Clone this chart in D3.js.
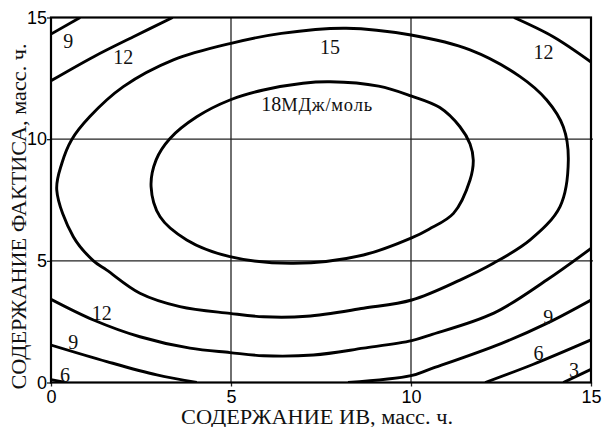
<!DOCTYPE html>
<html><head><meta charset="utf-8">
<script src="https://cdn.jsdelivr.net/npm/d3@7"></script>
<style>
body{margin:0;background:#fff;}
svg{display:block;}
</style></head>
<body>
<svg id="chart" width="603" height="427"></svg>
<script>
// ---- data ----
const xTicks = [0, 5, 10, 15];
const yTicks = [0, 5, 10, 15];
const xTitle = "СОДЕРЖАНИЕ  ИВ, масс. ч.";
const yTitle = "СОДЕРЖАНИЕ ФАКТИСА, масс. ч.";

// contour level 18 (closed)
const c18 = [[2.78,8.05],[2.92,9.15],[3.3,10.02],[4.05,10.92],[4.97,11.61],[5.9,12.02],[7.0,12.3],[7.75,12.36],[9.1,12.18],[10.0,11.78],[10.8,11.3],[11.36,10.51],[11.64,9.8],[11.73,9.14],[11.64,8.32],[11.18,6.95],[10.5,6.3],[10.0,5.93],[8.68,5.24],[6.73,4.9],[4.97,5.17],[3.77,5.86],[3.03,6.81]];
// contour level 15 (closed)
const c15 = [[0.16,7.91],[0.3,9.0],[0.57,9.97],[1.08,10.93],[2.01,12.16],[3.4,13.26],[5.0,13.94],[6.4,14.35],[8.2,14.56],[10.0,14.28],[11.64,13.67],[13.03,12.57],[13.77,11.61],[14.23,10.51],[14.37,9.14],[14.14,7.23],[13.31,5.86],[12.29,4.9],[11.36,4.21],[10.02,3.39],[8.68,3.05],[7.1,2.72],[5.9,2.7],[4.97,2.84],[3.58,3.12],[2.47,3.67],[1.55,4.62],[1.18,5.0],[0.62,5.99]];
// contour level 12 (open pieces)
const c12a = [[0,12.4],[1.2,13.4],[2.29,14.21],[3.38,15.0]];
const c12b = [[12.86,15.0],[13.95,14.21],[15.0,13.17]];
const c12c = [[0,3.42],[1.18,2.57],[2.47,1.88],[3.86,1.41],[4.97,1.23],[5.9,1.1],[7.29,1.13],[8.68,1.41],[10.02,1.72],[10.53,1.95],[12.3,2.85],[13.77,4.21],[15.0,5.51]];
// contour level 9
const c9a = [[0,14.32],[0.81,15.0]];
const c9b = [[0,1.54],[1.55,0.86],[2.94,0.31],[4.05,0]];
const c9c = [[8.25,0],[10.0,0.28],[10.53,0.55],[12.5,1.6],[13.8,2.45],[15.0,3.39]];
// contour level 6
const c6a = [[0,0.12],[0.4,0]];
const c6b = [[12.06,0],[13.4,0.75],[15.0,1.75]];
// contour level 3
const c3a = [[14.23,0],[15.0,0.54]];

const closedContours = [c18, c15];
const openContours = [c12a, c12b, c12c, c9a, c9b, c9c, c6a, c6b, c3a];

// level labels (data coordinates)
const labelText = ["9","12","15","12","12","9","6","9","6","3"];
const labelX    = [0.48, 2.01, 7.75, 13.68, 1.41, 0.62, 0.39, 13.81, 13.54, 14.53];
const labelY    = [14.04,13.39,13.78,13.6, 2.87, 1.68, 0.31, 2.71, 1.2, 0.51];
const mainLabel = {num: "18", unit: "МДж/моль", x: 7.39, y: 11.4};

// ---- layout ----
const W = 603, H = 427;
const m = {left: 51, right: 12, top: 17.5, bottom: 44.5};
const svg = d3.select("#chart");
const x = d3.scaleLinear().domain([0, 15]).range([m.left, W - m.right]);
const y = d3.scaleLinear().domain([0, 15]).range([H - m.bottom, m.top]);

svg.append("defs").append("clipPath").attr("id", "clip")
  .append("rect").attr("x", x(0)).attr("y", y(15))
  .attr("width", x(15) - x(0)).attr("height", y(0) - y(15));

// grid
const g = svg.append("g");
g.selectAll(".gx").data(xTicks.slice(1, -1)).join("line")
  .attr("x1", d => x(d)).attr("x2", d => x(d))
  .attr("y1", y(15)).attr("y2", y(0))
  .attr("stroke", "#222").attr("stroke-width", 1.3);
g.selectAll(".gy").data(yTicks.slice(1, -1)).join("line")
  .attr("y1", d => y(d)).attr("y2", d => y(d))
  .attr("x1", x(0)).attr("x2", x(15) + 2)
  .attr("stroke", "#222").attr("stroke-width", 1.3);

// axes
const tickFont = "'Liberation Sans', Arial, sans-serif";
const ax = svg.append("g").attr("transform", `translate(0,${y(0)})`)
  .call(d3.axisBottom(x).tickValues(xTicks).tickFormat(d3.format("d")).tickSize(4).tickPadding(4));
const ay = svg.append("g").attr("transform", `translate(${x(0)},0)`)
  .call(d3.axisLeft(y).tickValues(yTicks).tickFormat(d3.format("d")).tickSize(4).tickPadding(0));
[ax, ay].forEach(a => {
  a.select(".domain").remove();
  a.selectAll("line").attr("stroke", "#222").attr("stroke-width", 1.3);
  a.selectAll("text").attr("font-family", tickFont).attr("font-size", 18).attr("fill", "#000");
});

// frame
svg.append("rect").attr("x", x(0)).attr("y", y(15))
  .attr("width", x(15) - x(0)).attr("height", y(0) - y(15))
  .attr("fill", "none").attr("stroke", "#000").attr("stroke-width", 2.2);

// contours
const cg = svg.append("g").attr("clip-path", "url(#clip)");
const lineClosed = d3.line().x(d => x(d[0])).y(d => y(d[1])).curve(d3.curveCatmullRomClosed.alpha(0.5));
const lineOpen = d3.line().x(d => x(d[0])).y(d => y(d[1])).curve(d3.curveCatmullRom.alpha(0.5));
cg.selectAll(".closed").data(closedContours).join("path")
  .attr("d", lineClosed).attr("fill", "none").attr("stroke", "#000").attr("stroke-width", 2.9);
cg.selectAll(".open").data(openContours).join("path")
  .attr("d", lineOpen).attr("fill", "none").attr("stroke", "#000").attr("stroke-width", 2.9);

// level labels
const serif = "'Liberation Serif', 'Times New Roman', serif";
svg.selectAll(".lvl").data(labelText).join("text")
  .attr("x", (d, i) => x(labelX[i])).attr("y", (d, i) => y(labelY[i]))
  .attr("dy", "0.35em").attr("text-anchor", "middle")
  .attr("font-family", serif).attr("font-size", 20).attr("fill", "#111")
  .text(d => d);
const ml = svg.append("text").attr("x", x(mainLabel.x)).attr("y", y(mainLabel.y))
  .attr("dy", "0.35em").attr("text-anchor", "middle")
  .attr("font-family", serif).attr("fill", "#111");
ml.append("tspan").attr("font-size", 20).text(mainLabel.num);
ml.append("tspan").attr("font-size", 18.5).attr("letter-spacing", 0.8).text(mainLabel.unit);

// axis titles
svg.append("text").attr("x", 317).attr("y", 424).attr("text-anchor", "middle")
  .attr("font-family", serif).attr("font-size", 20.5).attr("fill", "#111")
  .attr("textLength", 272).attr("lengthAdjust", "spacingAndGlyphs")
  .text(xTitle);
svg.append("text").attr("transform", "translate(26,216.5) rotate(-90)").attr("text-anchor", "middle")
  .attr("font-family", serif).attr("font-size", 20.5).attr("fill", "#111")
  .attr("textLength", 346).attr("lengthAdjust", "spacingAndGlyphs")
  .text(yTitle);
</script>
</body></html>
